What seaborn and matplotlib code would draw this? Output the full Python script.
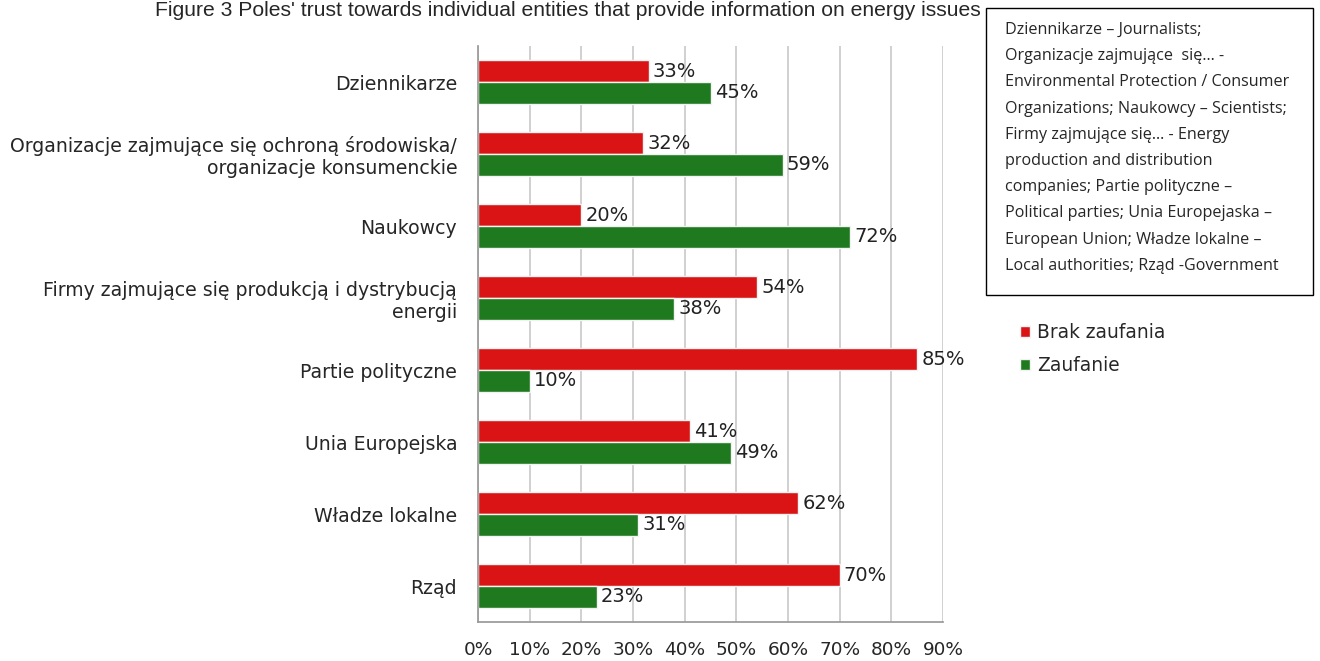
import matplotlib
matplotlib.use("Agg")
import matplotlib.pyplot as plt
import seaborn as sns
import pandas as pd
from matplotlib.patches import Rectangle

categories = ["Dziennikarze",
              "Organizacje zajmujące się ochroną środowiska/\norganizacje konsumenckie",
              "Naukowcy",
              "Firmy zajmujące się produkcją i dystrybucją\nenergii",
              "Partie polityczne",
              "Unia Europejska",
              "Władze lokalne",
              "Rząd"]
brak_zaufania = [33, 32, 20, 54, 85, 41, 62, 70]
zaufanie = [45, 59, 72, 38, 10, 49, 31, 23]
series_names = ["Brak zaufania", "Zaufanie"]
x_ticks = [0, 10, 20, 30, 40, 50, 60, 70, 80, 90]
title = "Figure 3 Poles' trust towards individual entities that provide information on energy issues"
note = ("Dziennikarze – Journalists;\nOrganizacje zajmujące  się… -\nEnvironmental Protection / Consumer\n"
        "Organizations; Naukowcy – Scientists;\nFirmy zajmujące się… - Energy\nproduction and distribution\n"
        "companies; Partie polityczne –\nPolitical parties; Unia Europejaska –\nEuropean Union; Władze lokalne –\n"
        "Local authorities; Rząd -Government")

df = pd.DataFrame({
    "cat": categories * 2,
    "val": brak_zaufania + zaufanie,
    "series": [series_names[0]] * len(categories) + [series_names[1]] * len(categories),
})

sns.set_theme(style="white")
plt.rcParams["font.family"] = ["DejaVu Sans"]
plt.rcParams["font.sans-serif"] = ["DejaVu Sans"]
FONT = "DejaVu Sans"

fig = plt.figure(figsize=(13.2, 6.61), dpi=100)
ax = fig.add_axes([478 / 1320, 1 - 622 / 661, (943 - 478) / 1320, (622 - 46) / 661])

palette = {series_names[0]: "#DA1414", series_names[1]: "#1F7A1F"}
sns.barplot(data=df, y="cat", x="val", hue="series", orient="h", palette=palette,
            width=0.6, ax=ax, edgecolor="#F2F2F2", linewidth=1.0, saturation=1, legend=True)

for c in ax.containers:
    ax.bar_label(c, fmt="%d%%", padding=3, fontsize=14, color="#222222", family=FONT)

ax.set_xlim(0, 90)
ax.set_xticks(x_ticks)
ax.set_xticklabels([f"{t}%" for t in x_ticks], fontsize=13.3, family=FONT)
ax.set_yticks(range(len(categories)))
ax.set_yticklabels(categories, fontsize=13.6, family=FONT)
ax.set_xlabel("")
ax.set_ylabel("")
ax.tick_params(axis="y", length=0, pad=15)
ax.tick_params(axis="x", length=4, color="#999999", pad=10)
ax.xaxis.grid(True, color="#C8C8C8", linewidth=1.2)
ax.set_axisbelow(True)
for s in ["top", "right"]:
    ax.spines[s].set_visible(False)
ax.spines["left"].set_color("#999999")
ax.spines["bottom"].set_color("#999999")

leg = ax.legend(loc="upper left", bbox_to_anchor=(1003 / 1320, 1 - 306 / 661),
                bbox_transform=fig.transFigure, frameon=False,
                prop={"family": FONT, "size": 13.4},
                handlelength=0.55, handleheight=0.55, handletextpad=0.4, labelspacing=0.75)

fig.text(568 / 1320, 1 - 11 / 661, title, ha="center", va="center", fontsize=15.2,
         family="Liberation Sans")

fig.patches.append(Rectangle((986 / 1320, 1 - 295 / 661), (1313 - 986) / 1320, (295 - 8) / 661,
                             transform=fig.transFigure, fill=False, edgecolor="black", linewidth=1.0))
fig.text(1005 / 1320, 1 - 22 / 661, note, ha="left", va="top", fontsize=11.6,
         family="Open Sans", linespacing=1.85)

fig.savefig("out.png", dpi=100)
